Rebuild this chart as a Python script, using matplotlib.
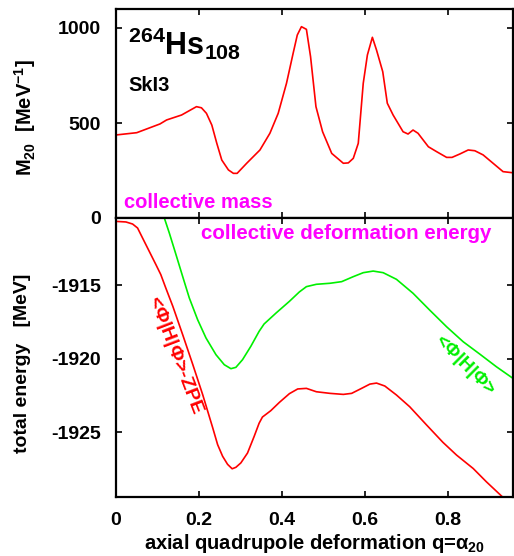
import matplotlib
matplotlib.use("Agg")
import matplotlib.pyplot as plt
from matplotlib.ticker import FuncFormatter

plt.rcParams['font.family'] = ['Liberation Sans', 'DejaVu Sans']
plt.rcParams['font.weight'] = 'bold'
plt.rcParams['axes.labelweight'] = 'bold'
plt.rcParams['axes.unicode_minus'] = False
plt.rcParams['mathtext.fontset'] = 'custom'
plt.rcParams['mathtext.rm'] = 'Liberation Sans:bold'
plt.rcParams['mathtext.bf'] = 'Liberation Sans:bold'
plt.rcParams['mathtext.it'] = 'Liberation Sans:bold'

# collective mass M20 (MeV^-1) vs q
q_mass = [0.0, 0.05, 0.106, 0.122, 0.158, 0.194, 0.206, 0.218, 0.231, 0.243, 0.255,
          0.271, 0.283, 0.292, 0.315, 0.347, 0.371, 0.391, 0.411, 0.427, 0.437,
          0.447, 0.459, 0.469, 0.482, 0.498, 0.52, 0.548, 0.56, 0.572, 0.584,
          0.596, 0.606, 0.618, 0.628, 0.643, 0.654, 0.668, 0.692, 0.704, 0.716,
          0.728, 0.753, 0.773, 0.797, 0.81, 0.829, 0.849, 0.865, 0.885, 0.909,
          0.933, 0.957]
m20 = [437, 449, 495, 516, 542, 586, 580, 551, 489, 393, 305,
       253, 235, 235, 288, 358, 446, 551, 709, 867, 963,
       1007, 993, 849, 586, 454, 340, 288, 290, 314, 393,
       709, 858, 951, 884, 770, 604, 542, 454, 442, 463,
       446, 375, 349, 319, 319, 337, 358, 354, 332, 288,
       244, 238]

# <Phi|H|Phi> - ZPE (red)
q_zpe = [0.0, 0.024, 0.040, 0.052, 0.064, 0.080, 0.096, 0.108, 0.120, 0.137,
         0.161, 0.185, 0.209, 0.233, 0.245, 0.257, 0.269, 0.280, 0.289, 0.301,
         0.317, 0.333, 0.345, 0.353, 0.373, 0.394, 0.418, 0.438, 0.459, 0.483,
         0.516, 0.548, 0.568, 0.592, 0.612, 0.628, 0.648, 0.676, 0.708, 0.748,
         0.788, 0.821, 0.861, 0.893, 0.933, 0.957]
e_zpe = [-1910.67, -1910.71, -1910.85, -1911.12, -1911.8, -1912.7, -1913.6,
         -1914.29, -1915.2, -1916.45, -1918.4, -1920.4, -1922.46, -1924.7,
         -1925.86, -1926.65, -1927.2, -1927.5, -1927.4, -1927.1, -1926.43,
         -1925.3, -1924.4, -1923.98, -1923.55, -1922.98, -1922.39, -1922.07,
         -1922.03, -1922.26, -1922.37, -1922.44, -1922.37, -1922.03, -1921.74,
         -1921.67, -1921.87, -1922.48, -1923.28, -1924.5, -1925.7, -1926.57,
         -1927.48, -1928.39, -1929.45, -1930.1]

# <Phi|H|Phi> (green)
q_hf = [0.112, 0.1165, 0.1285, 0.1446, 0.1606, 0.1767, 0.1968, 0.2169, 0.241,
        0.261, 0.277, 0.289, 0.305, 0.325, 0.345, 0.357, 0.386, 0.418, 0.442,
        0.459, 0.483, 0.516, 0.544, 0.572, 0.596, 0.62, 0.644, 0.676, 0.716,
        0.756, 0.797, 0.837, 0.877, 0.917, 0.957]
e_hf = [-1909.99, -1910.44, -1911.46, -1912.93, -1914.41, -1915.88, -1917.36,
        -1918.6, -1919.74, -1920.42, -1920.69, -1920.6, -1920.08, -1919.17,
        -1918.15, -1917.65, -1916.9, -1916.11, -1915.47, -1915.11, -1914.95,
        -1914.88, -1914.77, -1914.43, -1914.16, -1914.05, -1914.16, -1914.61,
        -1915.56, -1916.7, -1917.84, -1918.86, -1919.7, -1920.56, -1921.35]

fig = plt.figure(figsize=(5.14, 5.56), dpi=100)
left, right = 116 / 514, 513 / 514
ax1 = fig.add_axes([left, 1 - 218 / 556, right - left, 209 / 556])
ax2 = fig.add_axes([left, 1 - 497 / 556, right - left, 279 / 556])

for ax in (ax1, ax2):
    for s in ax.spines.values():
        s.set_linewidth(1.6)
    ax.tick_params(direction='in', top=True, right=True, length=4.5, width=1.2,
                   labelsize=14)
    ax.tick_params(axis='y', pad=11)
    ax.tick_params(axis='x', pad=11)
    ax.set_xlim(0, 0.957)
    ax.set_xticks([0, 0.2, 0.4, 0.6, 0.8])

# top panel
ax1.plot(q_mass, m20, color='#ff0000', lw=1.2)
ax1.set_ylim(0, 1100)
ax1.set_yticks([0, 500, 1000])
ax1.tick_params(labelbottom=False)
ax1.set_ylabel(r'M$_{20}$  [MeV$^{-1}$]', fontsize=14.5)
ax1.yaxis.set_label_coords(-0.197, 0.48)
ax1.text(0.03, 0.835, r'$^{264}$Hs$_{108}$', transform=ax1.transAxes,
         fontsize=22, ha='left', va='center')
ax1.text(0.03, 0.636, 'SkI3', transform=ax1.transAxes, fontsize=14.5, va='center')
ax1.text(0.02, 0.075, 'collective mass', transform=ax1.transAxes, fontsize=14.5,
         color='#ff00ff', va='center')

# bottom panel
ax2.plot(q_zpe, e_zpe, color='#ff0000', lw=1.2)
ax2.plot(q_hf, e_hf, color='#00f000', lw=1.2)
ax2.set_ylim(-1929.42, -1910.44)
ax2.set_yticks([-1915, -1920, -1925])
ax2.set_ylabel('total energy   [MeV]', fontsize=14)
ax2.yaxis.set_label_coords(-0.215, 0.48)
ax2.set_xlabel(r'axial quadrupole deformation q=$\alpha_{20}$', fontsize=14.5,
               labelpad=2)
ax2.xaxis.set_major_formatter(FuncFormatter(lambda v, p: '%g' % v))
ax2.text(0.58, 0.943, 'collective deformation energy', transform=ax2.transAxes,
         fontsize=14.8, color='#ff00ff', ha='center', va='center')
ax2.text(0.144, -1919.76, r'<$\Phi$|H|$\Phi$>-ZPE', color='#ff0000', fontsize=14,
         rotation=-69, ha='center', va='center')
ax2.text(0.841, -1920.44, r'<$\Phi$|H|$\Phi$>', color='#00f000', fontsize=13.5,
         rotation=-45, ha='center', va='center')

fig.savefig('out.png', dpi=100)
